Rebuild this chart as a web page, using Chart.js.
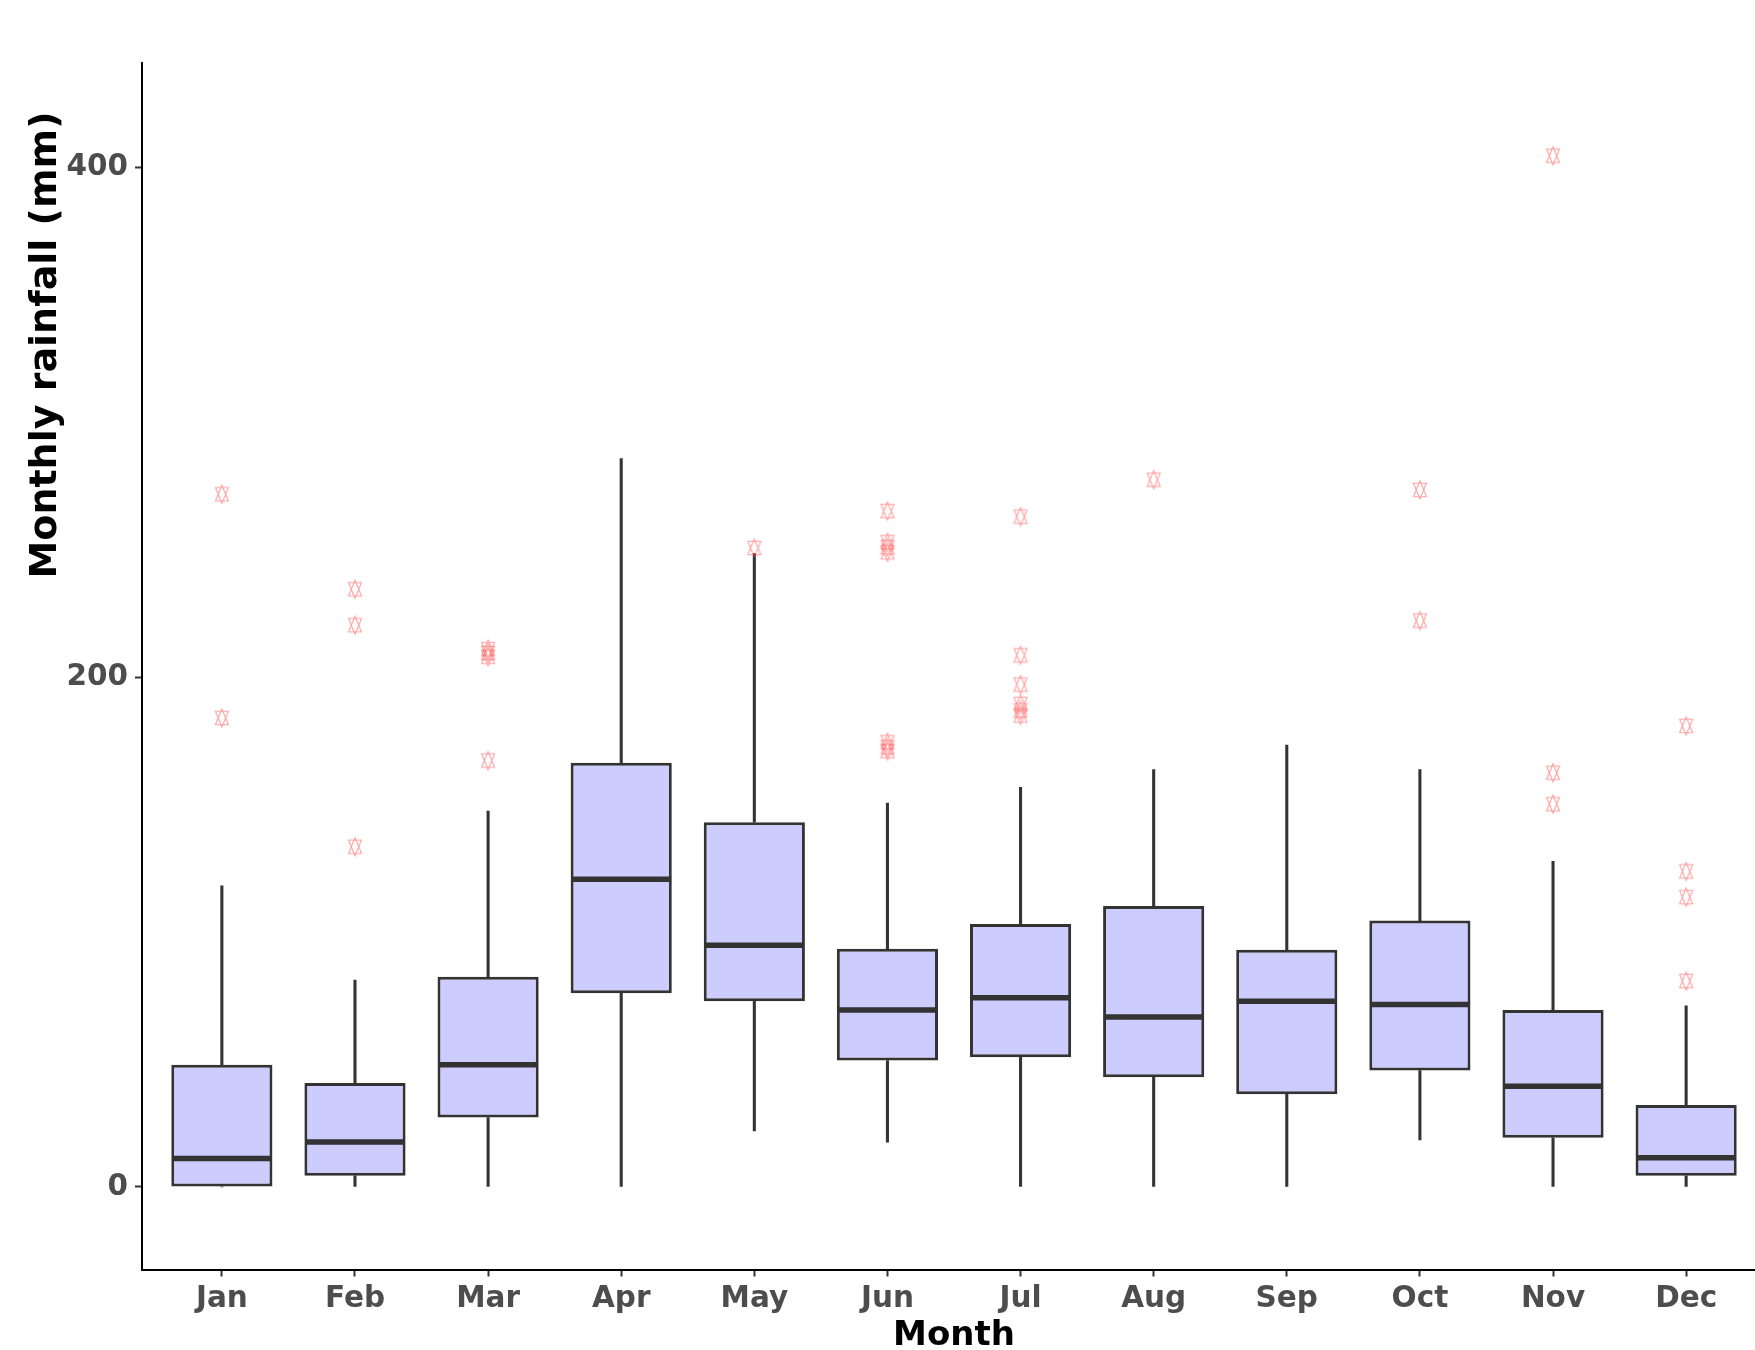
<!DOCTYPE html>
<html>
<head>
<meta charset="utf-8">
<script src="https://cdn.jsdelivr.net/npm/chart.js@4.4.1/dist/chart.umd.min.js"></script>
<style>
  html, body { margin: 0; padding: 0; background: #fff; overflow: hidden; }
  #wrap { width: 1755px; height: 1350px; overflow: hidden; }
</style>
</head>
<body>
<div id="wrap"><canvas id="rain" width="1790" height="1350"></canvas></div>
<script>
// Monthly rainfall box plot
const months = ['Jan', 'Feb', 'Mar', 'Apr', 'May', 'Jun', 'Jul', 'Aug', 'Sep', 'Oct', 'Nov', 'Dec'];
const whiskerLow  = [0,    0,    0,     0,     22.0,  17.6,  0,     0,     0,     18.4,  0,     0];
const q1          = [0,    4.4,  27.2,  76.0,  72.9,  49.6,  50.9,  43.0,  36.4,  45.7,  19.3,  4.4];
const median      = [11.2, 17.6, 47.9,  120.7, 94.8,  69.4,  74.2,  66.7,  72.9,  71.6,  39.5,  11.4];
const q3          = [47.9, 40.8, 82.5,  166.4, 143.1, 93.5,  103.2, 110.2, 93.1,  104.5, 69.4,  32.1];
const whiskerHigh = [118.1, 81.2, 147.5, 285.8, 248.5, 150.6, 156.8, 163.8, 173.4, 163.8, 127.8, 71.1];
const outliers = [
  [271.8, 184.0],
  [234.5, 220.4, 133.5],
  [211.0, 209.5, 208.0, 167.3],
  [],
  [250.7],
  [265.2, 253.0, 251.0, 249.0, 174.5, 172.5, 171.0],
  [263.0, 208.6, 197.1, 189.5, 187.0, 185.0],
  [277.5],
  [],
  [273.5, 222.2],
  [404.6, 162.5, 150.2],
  [180.9, 123.8, 113.7, 80.8]
];
const yTicks = [0, 200, 400];

const tickFont = { family: '"DejaVu Sans", sans-serif', size: 29.5, weight: 'bold' };

// hollow "star of David" marker (two triangles), like ggplot shape 11
function makeStar() {
  const c = document.createElement('canvas');
  c.width = 16; c.height = 22;
  const g = c.getContext('2d');
  g.strokeStyle = 'rgba(255, 70, 70, 0.5)';
  g.lineWidth = 1.1;
  const cx = 8, cy = 11, r = 9, hw = 6.5, b = 6.7;
  g.beginPath();
  g.moveTo(cx, cy - r); g.lineTo(cx + hw, cy + b); g.lineTo(cx - hw, cy + b); g.closePath();
  g.moveTo(cx, cy + r); g.lineTo(cx + hw, cy - b); g.lineTo(cx - hw, cy - b); g.closePath();
  g.stroke();
  return c;
}
const star = makeStar();

const outlierPts = [];
outliers.forEach((list, i) => list.forEach(v => outlierPts.push({ x: i + 1, y: v })));

const axisTitles = {
  id: 'axisTitles',
  afterDraw(chart) {
    const { ctx, chartArea } = chart;
    ctx.save();
    ctx.fillStyle = '#000';
    ctx.textAlign = 'center';
    ctx.textBaseline = 'middle';
    ctx.font = 'bold 34px "DejaVu Sans"';
    ctx.fillText('Month', (chartArea.left + chartArea.right) / 2, 1336);
    ctx.translate(46, 345);
    ctx.rotate(-Math.PI / 2);
    ctx.font = 'bold 38px "DejaVu Sans"';
    ctx.fillText('Monthly rainfall (mm)', 0, 0);
    ctx.restore();
  }
};

new Chart(document.getElementById('rain'), {
  type: 'bar',
  data: {
    datasets: [
      {
        data: months.map((m, i) => ({ x: i + 1, y: [whiskerLow[i], q1[i]] })),
        backgroundColor: '#333333', barThickness: 2.4, grouped: false, order: 3
      },
      {
        data: months.map((m, i) => ({ x: i + 1, y: [q3[i], whiskerHigh[i]] })),
        backgroundColor: '#333333', barThickness: 2.4, grouped: false, order: 3
      },
      {
        data: months.map((m, i) => ({ x: i + 1, y: [q1[i], q3[i]] })),
        backgroundColor: '#ccccff', borderColor: '#333333', borderWidth: 3,
        borderSkipped: false, barPercentage: 0.76, categoryPercentage: 1,
        grouped: false, order: 2
      },
      {
        type: 'scatter',
        data: months.map((m, i) => ({ x: i + 1, y: median[i] })),
        showLine: false,
        pointStyle: 'line',
        pointRadius: (c) => {
          const xs = c.chart.scales.x;
          return Math.abs(xs.getPixelForValue(1.375) - xs.getPixelForValue(1));
        },
        borderColor: '#333333', pointBorderWidth: 5.5, order: 1
      },
      {
        type: 'scatter',
        data: outlierPts,
        showLine: false,
        pointStyle: star, order: 0
      }
    ]
  },
  options: {
    responsive: false,
    animation: false,
    events: [],
    layout: { padding: { top: 63, right: 24, left: 0, bottom: 0 } },
    plugins: { legend: { display: false }, tooltip: { enabled: false } },
    scales: {
      x: {
        type: 'linear', min: 0.4, max: 12.6, offset: false,
        afterFit: (s) => { s.height = 80.5; },
        afterBuildTicks: (s) => { s.ticks = months.map((m, i) => ({ value: i + 1 })); },
        ticks: {
          autoSkip: false, maxRotation: 0, padding: 5,
          color: '#4d4d4d', font: tickFont,
          callback: (v) => months[v - 1]
        },
        grid: { offset: false, drawOnChartArea: false, drawTicks: true, tickLength: 7, tickColor: '#333333', tickWidth: 2 },
        border: { display: true, color: '#000000', width: 2 }
      },
      y: {
        type: 'linear', min: -32.4, max: 441,
        afterFit: (s) => { s.width = 142; },
        afterBuildTicks: (s) => { s.ticks = yTicks.map(v => ({ value: v })); },
        ticks: { padding: 7, color: '#4d4d4d', font: tickFont, callback: (v) => String(v) },
        grid: { drawOnChartArea: false, drawTicks: true, tickLength: 7, tickColor: '#333333', tickWidth: 2 },
        border: { display: true, color: '#000000', width: 2 }
      }
    }
  },
  plugins: [axisTitles]
});
</script>
</body>
</html>
